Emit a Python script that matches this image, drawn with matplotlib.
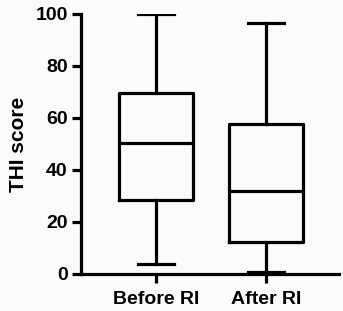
import matplotlib
matplotlib.use("Agg")
import matplotlib.pyplot as plt

categories = ["Before RI", "After RI"]
whisker_low = [3.8, 0.8]
q1 = [28.5, 12.4]
median = [50.3, 32]
q3 = [69.6, 57.7]
whisker_high = [100, 96.5]

plt.rcParams['font.family'] = ['Liberation Sans', 'DejaVu Sans']
plt.rcParams['font.weight'] = 'bold'

fig = plt.figure(figsize=(3.43, 3.11), dpi=100, facecolor='#fbfbfb')
ax = fig.add_axes([0.236, 0.119, 0.752, 0.836])
ax.set_facecolor('#fbfbfb')

stats = []
for i, c in enumerate(categories):
    stats.append(dict(label=c, whislo=whisker_low[i], q1=q1[i], med=median[i],
                      q3=q3[i], whishi=whisker_high[i], fliers=[]))
lw = 2.3
ax.bxp(stats, positions=[1, 2], widths=0.665, showfliers=False,
       boxprops=dict(linewidth=lw, color='black'),
       medianprops=dict(linewidth=lw, color='black'),
       whiskerprops=dict(linewidth=lw, color='black'),
       capprops=dict(linewidth=lw, color='black'),
       capwidths=0.33)

ax.set_xlim(0.32, 2.66)
ax.set_ylim(0, 100)
ax.set_yticks([0, 20, 40, 60, 80, 100])
for s in ['top', 'right']:
    ax.spines[s].set_visible(False)
for s in ['left', 'bottom']:
    ax.spines[s].set_linewidth(lw)
ax.tick_params(axis='both', width=lw, length=6.5, labelsize=14)
ax.tick_params(axis='y', pad=3)
ax.tick_params(axis='x', pad=6)
ax.set_xticklabels(categories, fontweight='bold', fontsize=14)
ax.set_ylabel("THI score", fontsize=15, fontweight='bold')
ax.yaxis.set_label_coords(-0.205, 0.5)
fig.savefig("out.png", dpi=100, facecolor=fig.get_facecolor())
